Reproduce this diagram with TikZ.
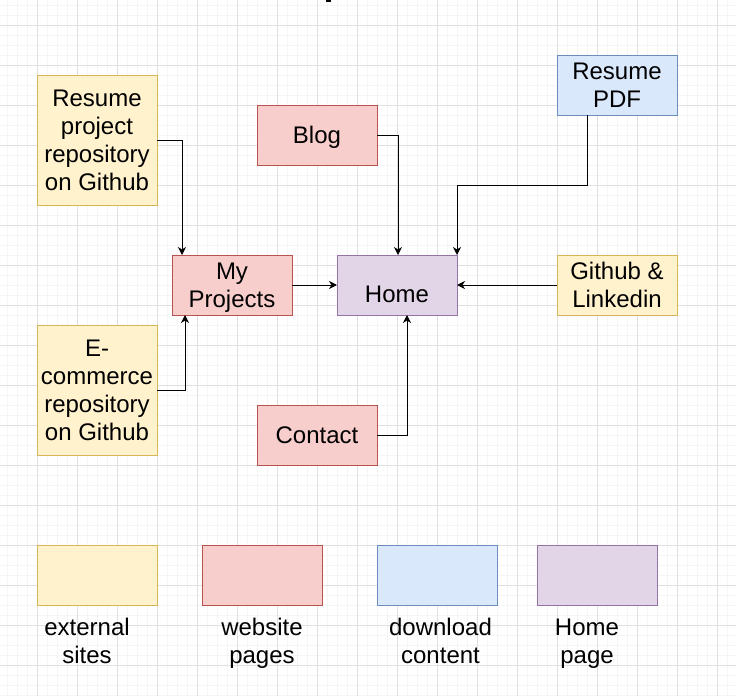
\documentclass[tikz,border=0pt]{standalone}
\usepackage{fontspec}
\setmainfont{Liberation Sans}
\usetikzlibrary{arrows.meta}
\newcommand\tstrut{\rule[-5pt]{0pt}{26pt}}
\definecolor{yfill}{HTML}{FFF2CC}\definecolor{ydraw}{HTML}{D6B656}
\definecolor{rfill}{HTML}{F8CECC}\definecolor{rdraw}{HTML}{B85450}
\definecolor{bfill}{HTML}{DAE8FC}\definecolor{bdraw}{HTML}{6C8EBF}
\definecolor{pfill}{HTML}{E1D5E7}\definecolor{pdraw}{HTML}{9673A6}
\definecolor{gridmajor}{HTML}{E0E0E0}\definecolor{gridminor}{HTML}{F5F5F5}
\begin{document}
\begin{tikzpicture}[x=1pt,y=-1pt,
  txt/.style={align=center, inner sep=0pt, font=\fontsize{24}{28}\selectfont},
  box/.style={txt, draw, rectangle, line width=1pt, minimum width=120pt, minimum height=60pt, outer sep=0pt},
  ext/.style={box, fill=yfill, draw=ydraw},
  web/.style={box, fill=rfill, draw=rdraw},
  dl/.style={box, fill=bfill, draw=bdraw},
  hp/.style={box, fill=pfill, draw=pdraw},
  conn/.style={draw=black, line width=1pt, -{Stealth[length=8pt,width=8pt,inset=2.5pt]}},
  minorline/.style={draw=gridminor, line width=1pt},
  majorline/.style={draw=gridmajor, line width=1pt}]
\useasboundingbox (0,0) rectangle (736,696);
\fill[white] (0,0) rectangle (736,696);
% grid
\foreach \x in {7,17,...,727} \draw[minorline] (\x,0) -- (\x,696);
\foreach \y in {5,15,...,695} \draw[minorline] (0,\y) -- (736,\y);
\foreach \x in {37,77,...,717} \draw[majorline] (\x,0) -- (\x,696);
\foreach \y in {25,65,...,665} \draw[majorline] (0,\y) -- (736,\y);
% cut-off title fragment
\fill[black] (326,0) rectangle (331,2);
% nodes
\node[ext, minimum height=130pt] (rp) at (97,140) {\tstrut Resume\\\tstrut project\\\tstrut repository\\\tstrut on Github};
\node[ext, minimum height=130pt] (ec) at (97,390) {\tstrut E-\\\tstrut commerce\\\tstrut repository\\\tstrut on Github};
\node[web] (blog) at (317,135) {\tstrut Blog};
\node[dl] (pdf) at (617,85) {\tstrut Resume\\\tstrut PDF};
\node[web] (proj) at (232,285) {\tstrut My\\\tstrut Projects};
\node[hp] (home) at (397,285) {\raisebox{-9pt}[21pt][5pt]{Home}};
\node[ext] (gh) at (617,285) {\tstrut Github \&\\\tstrut Linkedin};
\node[web] (contact) at (317,435) {\tstrut Contact};
% connectors
\draw[conn] (rp.east) -| ([xshift=-50pt]proj.north);
\draw[conn] (ec.east) -| ([xshift=-47pt]proj.south);
\draw[conn] (blog.east) -| ([xshift=1pt]home.north);
\coordinate (pdfbend) at ([xshift=-30pt,yshift=-70pt]pdf.south);
\draw[conn] ([xshift=-30pt]pdf.south) -- (pdfbend) -| (home.north east);
\draw[conn] (gh.west) -- (home.east);
\draw[conn] (proj.east) -- (home.west);
\draw[conn] (contact.east) -| ([xshift=10pt]home.south);
% legend
\node[ext] (lg1) at (97,575) {};
\node[web] (lg2) at (262,575) {};
\node[dl] (lg3) at (437,575) {};
\node[hp] (lg4) at (597,575) {};
\node[txt] (lt1) at (87,641) {\tstrut external\\\tstrut sites};
\node[txt] (lt2) at (262,641) {\tstrut website\\\tstrut pages};
\node[txt] (lt3) at (440.5,641) {\tstrut download\\\tstrut content};
\node[txt] (lt4) at (587,641) {\tstrut Home\\\tstrut page};
\end{tikzpicture}
\end{document}
